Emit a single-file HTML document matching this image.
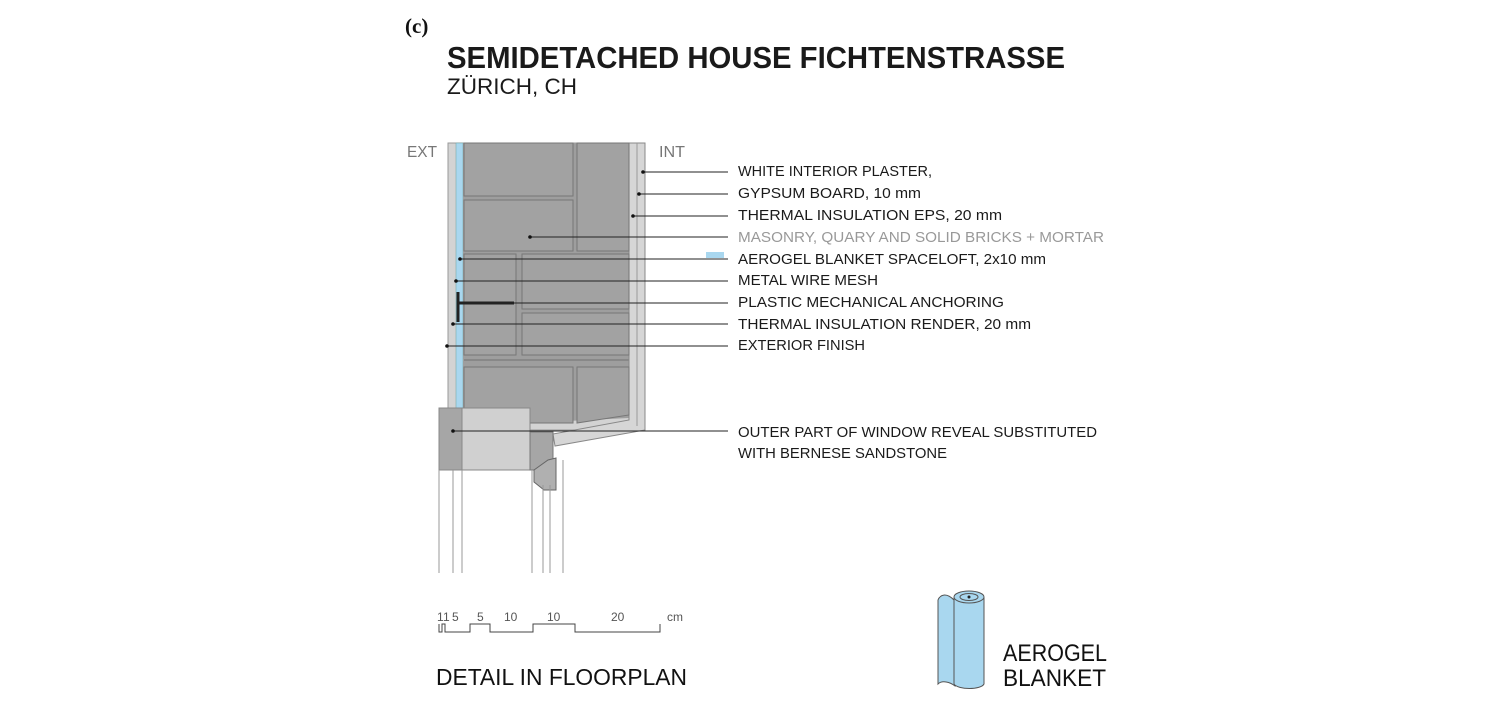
<!DOCTYPE html>
<html><head><meta charset="utf-8"><style>body{margin:0;background:#fff}svg{display:block}text{font-family:"Liberation Sans",sans-serif}</style></head><body>
<svg width="1500" height="716" viewBox="0 0 1500 716" xmlns="http://www.w3.org/2000/svg">
<text x="405" y="33" style="font-family:'Liberation Serif',serif;font-weight:bold" font-size="21" fill="#111">(c)</text>
<text x="447" y="68" font-size="31" font-weight="bold" fill="#1a1a1a" textLength="618" lengthAdjust="spacingAndGlyphs">SEMIDETACHED HOUSE FICHTENSTRASSE</text>
<text x="447" y="94" font-size="22" fill="#1a1a1a" textLength="130" lengthAdjust="spacingAndGlyphs">ZÜRICH, CH</text>
<text x="407" y="157" font-size="16" fill="#777" textLength="30" lengthAdjust="spacingAndGlyphs">EXT</text>
<text x="659" y="157" font-size="16" fill="#777" textLength="26" lengthAdjust="spacingAndGlyphs">INT</text>
<!-- wall -->
<rect x="448" y="143" width="197" height="287" fill="#d3d3d3" stroke="#999" stroke-width="1"/>
<rect x="456" y="143" width="7" height="265" fill="#a9d7ef" stroke="#7aa" stroke-width="0.6"/>
<polygon points="463,143 629,143 629,418 463,426" fill="#9e9e9e"/>
<polygon points="629,143 645,143 645,430 555,446 553,434 629,420" fill="#d6d6d6" stroke="#888" stroke-width="1"/>
<line x1="637" y1="143" x2="637" y2="426" stroke="#999"/>
<g fill="#a2a2a2" stroke="#777" stroke-width="1">
<rect x="464" y="143" width="109" height="53"/>
<rect x="577" y="143" width="52" height="108"/>
<rect x="464" y="200" width="109" height="51"/>
<rect x="464" y="254" width="52" height="101"/>
<rect x="522" y="254" width="107" height="55"/>
<rect x="522" y="313" width="107" height="42"/>
<rect x="464" y="367" width="109" height="56"/>
<polygon points="577,367 629,367 629,415 577,423"/>
</g>
<line x1="464" y1="360" x2="629" y2="360" stroke="#888" stroke-width="2"/>
<!-- sandstone and window -->
<rect x="439" y="408" width="91" height="62" fill="#d0d0d0" stroke="#888"/>
<rect x="439" y="408" width="23" height="62" fill="#a6a6a6" stroke="#888"/>
<polygon points="530,432 553,432 553,470 530,470" fill="#a6a6a6" stroke="#777"/>
<path d="M534,470 L548,460 L556,458 L556,490 L544,490 L534,482 Z" fill="#b0b0b0" stroke="#666"/>
<g stroke="#999" stroke-width="1" fill="none">
<line x1="439" y1="470" x2="439" y2="573"/><line x1="453" y1="470" x2="453" y2="573"/><line x1="462" y1="470" x2="462" y2="573"/>
<line x1="532" y1="470" x2="532" y2="573"/><line x1="543" y1="485" x2="543" y2="573"/><line x1="550" y1="485" x2="550" y2="573"/><line x1="563" y1="460" x2="563" y2="573"/>
</g>
<line x1="458" y1="292" x2="458" y2="322" stroke="#222" stroke-width="3"/>
<line x1="458" y1="303" x2="514" y2="303" stroke="#222" stroke-width="3"/>
<!-- leaders -->
<g stroke="#222" stroke-width="1">
<line x1="643" y1="172" x2="728" y2="172"/><line x1="639" y1="194" x2="728" y2="194"/><line x1="633" y1="216" x2="728" y2="216"/>
<line x1="530" y1="237" x2="728" y2="237"/><line x1="460" y1="259" x2="728" y2="259"/><line x1="456" y1="281" x2="728" y2="281"/>
<line x1="514" y1="303" x2="728" y2="303"/><line x1="453" y1="324" x2="728" y2="324"/><line x1="447" y1="346" x2="728" y2="346"/>
<line x1="453" y1="431" x2="728" y2="431"/>
</g>
<g fill="#111"><circle cx="643" cy="172" r="1.8"/><circle cx="639" cy="194" r="1.8"/><circle cx="633" cy="216" r="1.8"/><circle cx="530" cy="237" r="1.8"/><circle cx="460" cy="259" r="1.8"/><circle cx="456" cy="281" r="1.8"/><circle cx="453" cy="324" r="1.8"/><circle cx="447" cy="346" r="1.8"/><circle cx="453" cy="431" r="1.8"/></g>
<rect x="706" y="252" width="18" height="6" fill="#a9d7ef"/>
<g font-size="15" fill="#1a1a1a">
<text x="738" y="176" textLength="194" lengthAdjust="spacingAndGlyphs">WHITE INTERIOR PLASTER,</text>
<text x="738" y="198" textLength="183" lengthAdjust="spacingAndGlyphs">GYPSUM BOARD, 10 mm</text>
<text x="738" y="220" textLength="264" lengthAdjust="spacingAndGlyphs">THERMAL INSULATION EPS,  20 mm</text>
<text x="738" y="242" fill="#999" textLength="366" lengthAdjust="spacingAndGlyphs">MASONRY, QUARY AND SOLID BRICKS + MORTAR</text>
<text x="738" y="264" textLength="308" lengthAdjust="spacingAndGlyphs">AEROGEL BLANKET SPACELOFT, 2x10 mm</text>
<text x="738" y="285" textLength="140" lengthAdjust="spacingAndGlyphs">METAL WIRE MESH</text>
<text x="738" y="307" textLength="266" lengthAdjust="spacingAndGlyphs">PLASTIC MECHANICAL ANCHORING</text>
<text x="738" y="329" textLength="293" lengthAdjust="spacingAndGlyphs">THERMAL INSULATION RENDER, 20 mm</text>
<text x="738" y="350" textLength="127" lengthAdjust="spacingAndGlyphs">EXTERIOR FINISH</text>
<text x="738" y="437" textLength="359" lengthAdjust="spacingAndGlyphs">OUTER PART OF WINDOW REVEAL SUBSTITUTED</text>
<text x="738" y="458" textLength="209" lengthAdjust="spacingAndGlyphs">WITH BERNESE SANDSTONE</text>
</g>
<!-- scale -->
<path d="M439,624 V632 H442 V624 H445 V632 H470 V624 H490 V632 H533 V624 H575 V632 H660 V624" fill="none" stroke="#444" stroke-width="1"/>
<g font-size="12" fill="#555"><text x="437" y="621">1</text><text x="443" y="621">1</text><text x="452" y="621">5</text><text x="477" y="621">5</text><text x="504" y="621">10</text><text x="547" y="621">10</text><text x="611" y="621">20</text><text x="667" y="621">cm</text></g>
<text x="436" y="685" font-size="23" fill="#111" textLength="251" lengthAdjust="spacingAndGlyphs">DETAIL IN FLOORPLAN</text>
<!-- roll -->
<path d="M954,600 C946,592 940,595 938,600 L938,684 C942,680 950,682 955,686 Z" fill="#a9d7ef" stroke="#555"/>
<path d="M954,598 L954,684 C958,690 981,690 984,684 L984,598 Z" fill="#a9d7ef" stroke="#555"/>
<ellipse cx="969" cy="597" rx="15" ry="6" fill="#a9d7ef" stroke="#555"/>
<ellipse cx="969" cy="597" rx="9" ry="3.5" fill="none" stroke="#555"/>
<circle cx="969" cy="597" r="1.5" fill="#222"/>
<text x="1003" y="661" font-size="24" fill="#111" textLength="104" lengthAdjust="spacingAndGlyphs">AEROGEL</text>
<text x="1003" y="686" font-size="24" fill="#111" textLength="103" lengthAdjust="spacingAndGlyphs">BLANKET</text>
</svg>
</body></html>
